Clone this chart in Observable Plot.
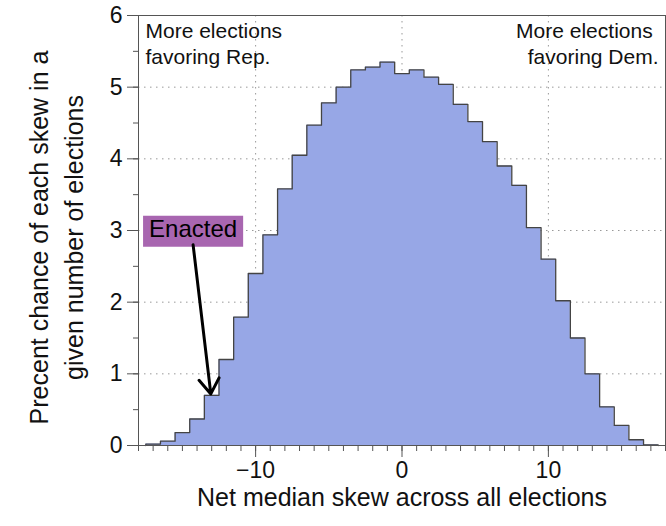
<!DOCTYPE html>
<html><head><meta charset="utf-8">
<script src="https://cdn.jsdelivr.net/npm/d3@7"></script>
<script src="https://cdn.jsdelivr.net/npm/@observablehq/plot@0.6"></script>
<style>body{margin:0;background:#fff} #chart{width:666px;height:526px}</style>
</head><body><div id="chart"></div>
<script>
// Bin centres (net median skew) and percent chance per bin
const skew = [-17,-16,-15,-14,-13,-12,-11,-10,-9,-8,-7,-6,-5,-4,-3,-2,-1,0,1,2,3,4,5,6,7,8,9,10,11,12,13,14,15,16,17];
const pct = [0.02,0.06,0.18,0.37,0.70,1.20,1.79,2.40,2.94,3.58,4.05,4.47,4.78,5.00,5.24,5.28,5.35,
             5.19,5.24,5.14,5.04,4.76,4.52,4.24,3.90,3.63,3.04,2.60,2.02,1.50,1.00,0.54,0.28,0.08,0.01];

// Axis ticks
const xTicksMajor = [-10, 0, 10];
const xTicksMinor = [-18,-17,-16,-15,-14,-13,-12,-11,-10,-9,-8,-7,-6,-5,-4,-3,-2,-1,0,1,2,3,4,5,6,7,8,9,10,11,12,13,14,15,16,17,18];
const yTicksMajor = [0, 1, 2, 3, 4, 5, 6];
const yTicksMinor = [0,0.5,1,1.5,2,2.5,3,3.5,4,4.5,5,5.5,6];
const xGrid = [-10, 0, 10];
const yGrid = [1, 2, 3, 4, 5];

// Text
const xTitle = "Net median skew across all elections";
const yTitle = "Precent chance of each skew in a\ngiven number of elections";
const noteRep = "More elections\nfavoring Rep.";
const noteDem = "More elections\u00a0\nfavoring Dem.";
const enacted = [{label: "Enacted", labelX: -14.27, labelY: 3.02, fromX: -14.27, fromY: 2.80, skew: -13.06, value: 0.72}];

// Step outline built from the bins
const bins = skew.map((s, i) => ({x: s, v: pct[i]}));
const last = bins[bins.length - 1];
const steps = [{x: bins[0].x - 0.5, y: 0}]
  .concat(bins.map(b => ({x: b.x - 0.5, y: b.v})))
  .concat([{x: last.x + 0.5, y: last.v}, {x: last.x + 0.5, y: 0}]);

const chart = Plot.plot({
  width: 666, height: 526,
  marginLeft: 138, marginRight: 1, marginTop: 15, marginBottom: 81,
  x: {domain: [-18, 18]},
  y: {domain: [0, 6]},
  style: {fontFamily: "'Liberation Sans', Arial, Helvetica, sans-serif", fontSize: "23px", color: "#111", background: "#fff"},
  marks: [
    Plot.ruleY(yGrid, {stroke: "#999", strokeDasharray: "1.5,4.5"}),
    Plot.ruleX(xGrid, {stroke: "#999", strokeDasharray: "1.5,4.5"}),
    Plot.areaY(steps, {x: "x", y: "y", curve: "step-after", fill: "#97a7e6"}),
    Plot.line(steps, {x: "x", y: "y", curve: "step-after", stroke: "#444", strokeWidth: 1.3}),
    Plot.axisX(xTicksMinor, {tickSize: 6, tickFormat: () => "", label: null, stroke: "#555"}),
    Plot.axisX(xTicksMajor, {tickSize: 12, tickPadding: 4, tickFormat: d3.format("d"), label: null, stroke: "#555", fill: "#111"}),
    Plot.axisY(yTicksMinor, {tickSize: 5, tickFormat: () => "", label: null, stroke: "#555"}),
    Plot.axisY(yTicksMajor, {tickSize: 11, tickPadding: 5, tickFormat: d3.format("d"), label: null, stroke: "#555", fill: "#111"}),
    Plot.frame({stroke: "#555"}),
    Plot.text([xTitle], {frameAnchor: "bottom", dy: 60, fontSize: 25, fill: "#111"}),
    Plot.text([yTitle], {frameAnchor: "left", dx: -84, dy: 7, rotate: -90, textAnchor: "middle", lineAnchor: "middle", fontSize: 25, lineHeight: 1.4, fill: "#111"}),
    Plot.text([noteRep], {frameAnchor: "top-left", textAnchor: "start", lineAnchor: "top", dx: 7, dy: 5, fontSize: 21, lineHeight: 1.2, fill: "#111"}),
    Plot.text([noteDem], {frameAnchor: "top-right", textAnchor: "end", lineAnchor: "top", dx: -7, dy: 5, fontSize: 21, lineHeight: 1.2, fill: "#111"}),
    Plot.text(enacted, {x: "labelX", y: "labelY", text: "label", fontSize: 24, fill: "#000"}),
    Plot.arrow(enacted, {x1: "fromX", y1: "fromY", x2: "skew", y2: "value", stroke: "#000", strokeWidth: 3, headLength: 9, headAngle: 68})
  ]
});
document.getElementById("chart").appendChild(chart);

// Purple box behind the "Enacted" label
chart.querySelectorAll("text").forEach(t => {
  if (t.textContent === "Enacted") {
    const b = t.getBBox();
    const r = document.createElementNS("http://www.w3.org/2000/svg", "rect");
    r.setAttribute("x", b.x - 6);
    r.setAttribute("y", b.y + 1);
    r.setAttribute("width", b.width + 12);
    r.setAttribute("height", b.height + 4);
    r.setAttribute("fill", "#a866b0");
    if (t.getAttribute("transform")) r.setAttribute("transform", t.getAttribute("transform"));
    t.parentNode.insertBefore(r, t);
  }
});
</script>
</body></html>
